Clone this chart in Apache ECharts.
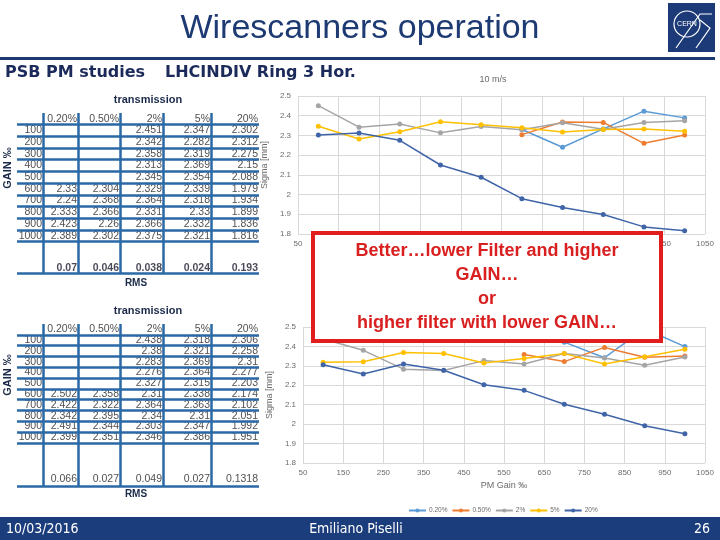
<!DOCTYPE html>
<html><head><meta charset="utf-8">
<script src="https://cdn.jsdelivr.net/npm/echarts@6/dist/echarts.min.js"></script>
<style>html,body{margin:0;padding:0;background:#fff}#c{width:720px;height:540px}</style>
</head><body><div id="c"></div><script>
// ---- data ----
const gains = [100,200,300,400,500,600,700,800,900,1000];
const filters = ['0.20%','0.50%','2%','5%','20%'];
// 10 m/s (upper table / chart)
const up020 = [null,null,null,null,null,2.33,2.24,2.333,2.423,2.389];
const up050 = [null,null,null,null,null,2.304,2.368,2.366,2.26,2.302];
const up2   = [2.451,2.342,2.358,2.313,2.345,2.329,2.364,2.331,2.366,2.375];
const up5   = [2.347,2.282,2.319,2.369,2.354,2.339,2.318,2.33,2.332,2.321];
const up20  = [2.302,2.312,2.275,2.15,2.088,1.979,1.934,1.899,1.836,1.816];
const upRms = [0.07,0.046,0.038,0.024,0.193];
// lower table / chart
const lo020 = [null,null,null,null,null,2.502,2.422,2.342,2.491,2.399];
const lo050 = [null,null,null,null,null,2.358,2.322,2.395,2.344,2.351];
const lo2   = [2.438,2.38,2.283,2.276,2.327,2.31,2.364,2.34,2.303,2.346];
const lo5   = [2.318,2.321,2.369,2.364,2.315,2.338,2.363,2.31,2.347,2.386];
const lo20  = [2.306,2.258,2.31,2.277,2.203,2.174,2.102,2.051,1.992,1.951];
const loRms = [0.066,0.027,0.049,0.027,0.1318];
const yTicks = [1.8,2.5,0.1];

// ---- layout / style ----
const colors = ['#5B9BD5','#ED7D31','#A5A5A5','#FFC000','#3F64A8'];
const navy = '#1D3A73';
const tblLine = '#2B69A6';
const colEdges = [0,26,61,103,146,194,242];
const tableFont = 'Liberation Sans, Arial, sans-serif';

function tableSeries(gi, cols, rms, rmsRow, bottom, rmsBold){
  const cells = [];
  filters.forEach((f,c)=>cells.push([colEdges[c+2],0.5,f]));
  gains.forEach((g,r)=>{
    cells.push([colEdges[1],r+1.5,String(g)]);
    cols.forEach((arr,c)=>{ if(arr[r]!=null) cells.push([colEdges[c+2],r+1.5,String(arr[r])]); });
  });
  const rmsCells = rms.map((v,c)=>[colEdges[c+2],rmsRow,String(v)]);
  const lines = [];
  for(let y=1;y<=11;y++) lines.push([{coord:[0,y]},{coord:[242,y]}]);
  lines.push([{coord:[0,bottom]},{coord:[242,bottom]}]);
  for(let c=1;c<=5;c++) lines.push([{coord:[colEdges[c],0]},{coord:[colEdges[c],bottom]}]);
  const lbl = {show:true,position:'left',distance:1,formatter:p=>p.data[2],color:'#222',fontSize:10.5,fontFamily:tableFont};
  return [
    {type:'scatter',xAxisIndex:gi,yAxisIndex:gi,symbolSize:0,data:cells,label:lbl,silent:true,
     markLine:{silent:true,symbol:'none',label:{show:false},lineStyle:{color:tblLine,width:2.5,type:'solid'},data:lines}},
    {type:'scatter',xAxisIndex:gi,yAxisIndex:gi,symbolSize:0,data:rmsCells,silent:true,
     label:Object.assign({},lbl,{fontWeight:rmsBold?'bold':'normal',color:rmsBold?'#1a1a2e':'#222'})}
  ];
}

function lineSeries(gi, arrs){
  return arrs.map((arr,i)=>({
    type:'line',name:filters[i],xAxisIndex:gi,yAxisIndex:gi,
    data:gains.map((g,k)=>[g,arr[k]]),
    symbol:'circle',symbolSize:5,color:colors[i],
    lineStyle:{width:1.5,color:colors[i]},itemStyle:{color:colors[i]},connectNulls:false
  }));
}

const axLbl = {fontSize:8,color:'#6b6b6b',fontFamily:tableFont};
function chartX(gi, name){
  return {type:'value',gridIndex:gi,min:50,max:1050,interval:100,
    axisLine:{show:false},axisTick:{show:false},axisLabel:Object.assign({margin:6,formatter:v=>String(v)},axLbl),
    splitLine:{show:true,lineStyle:{color:'#D9D9D9',width:1}},
    name:name,nameLocation:'middle',nameGap:18,nameTextStyle:{fontSize:9,color:'#6b6b6b',fontFamily:tableFont}};
}
function chartY(gi,gap){
  return {type:'value',gridIndex:gi,min:yTicks[0],max:yTicks[1],interval:yTicks[2],
    axisLine:{show:false},axisTick:{show:false},axisLabel:Object.assign({margin:7,formatter:v=>String(v)},axLbl),
    splitLine:{show:true,lineStyle:{color:'#D9D9D9',width:1}},
    name:'Sigma [mm]',nameLocation:'middle',nameGap:gap,nameTextStyle:{fontSize:9,color:'#6b6b6b',fontFamily:tableFont}};
}
function tblX(gi){return {type:'value',gridIndex:gi,min:0,max:242,show:false};}
function tblY(gi,max){return {type:'value',gridIndex:gi,min:0,max:max,inverse:true,show:false};}

const footFont = 'Liberation Sans Narrow, DejaVu Sans Condensed, sans-serif';
const headFont = 'DejaVu Sans, Verdana, sans-serif';

const option = {
  animation:false,
  backgroundColor:'#fff',
  title:[
    {text:'Wirescanners operation',left:'center',top:7,textStyle:{fontSize:34,fontWeight:'normal',color:navy,fontFamily:'Liberation Sans, Arial, sans-serif'}},
    {text:'10 m/s',left:488,top:70,textAlign:'center',textStyle:{fontSize:9,fontWeight:'normal',color:'#6b6b6b',fontFamily:tableFont}}
  ],
  grid:[
    {left:17,top:113,width:242,height:160},
    {left:17,top:324,width:242,height:162},
    {left:298,top:96,width:407,height:138},
    {left:303,top:327,width:402,height:136}
  ],
  xAxis:[tblX(0),tblX(1),chartX(2,''),chartX(3,'PM Gain ‰')],
  yAxis:[tblY(0,13.7),tblY(1,15),chartY(2,20),chartY(3,21)],
  legend:{data:filters,top:502,left:403,itemWidth:17,itemHeight:5,itemGap:4,
    textStyle:{fontSize:6.5,color:'#6b6b6b',fontFamily:tableFont,padding:[0,0,0,-2]}},
  series:[].concat(
    tableSeries(0,[up020,up050,up2,up5,up20],upRms,13.28,13.7,true),
    tableSeries(1,[lo020,lo050,lo2,lo5,lo20],loRms,14.4,15,false),
    lineSeries(2,[up020,up050,up2,up5,up20]),
    lineSeries(3,[lo020,lo050,lo2,lo5,lo20])
  ),
  graphic:[
    {type:'rect',shape:{x:0,y:57,width:715,height:3},style:{fill:navy},z:50},
    {type:'group',z:50,children:[
      {type:'rect',shape:{x:668,y:3,width:47,height:49},style:{fill:'#1C3A78'}},
      {type:'circle',shape:{cx:687,cy:24,r:13},style:{fill:'none',stroke:'#fff',lineWidth:1.2}},
      {type:'text',style:{x:687,y:24,text:'CERN',fill:'#fff',fontSize:7,align:'center',verticalAlign:'middle',fontFamily:tableFont}},
      {type:'polyline',shape:{points:[[676,48],[700,14],[712,14]]},style:{fill:'none',stroke:'#fff',lineWidth:1.2}},
      {type:'polyline',shape:{points:[[696,48],[710,28],[700,20]]},style:{fill:'none',stroke:'#fff',lineWidth:1.2}}
    ]},
    {type:'text',style:{x:5,y:73,text:'PSB PM studies',fill:'#1B2A5A',fontSize:16,fontWeight:'bold',fontFamily:headFont,verticalAlign:'middle'}},
    {type:'text',style:{x:165,y:73,text:'LHCINDIV Ring 3 Hor.',fill:'#1B2A5A',fontSize:16,fontWeight:'bold',fontFamily:headFont,verticalAlign:'middle'}},
    {type:'text',style:{x:148,y:100,text:'transmission',fill:'#1B2A4A',fontSize:11,fontWeight:'bold',fontFamily:tableFont,align:'center',verticalAlign:'middle'}},
    {type:'text',style:{x:148,y:311,text:'transmission',fill:'#1B2A4A',fontSize:11,fontWeight:'bold',fontFamily:tableFont,align:'center',verticalAlign:'middle'}},
    {type:'text',style:{x:136,y:283,text:'RMS',fill:'#1B2A4A',fontSize:10,fontWeight:'bold',fontFamily:tableFont,align:'center',verticalAlign:'middle'}},
    {type:'text',style:{x:136,y:494,text:'RMS',fill:'#1B2A4A',fontSize:10,fontWeight:'bold',fontFamily:tableFont,align:'center',verticalAlign:'middle'}},
    {type:'text',x:8,y:168,rotation:Math.PI/2,style:{text:'GAIN ‰',fill:'#1B2A4A',fontSize:11,fontWeight:'bold',fontFamily:tableFont,align:'center',verticalAlign:'middle'}},
    {type:'text',x:8,y:375,rotation:Math.PI/2,style:{text:'GAIN ‰',fill:'#1B2A4A',fontSize:11,fontWeight:'bold',fontFamily:tableFont,align:'center',verticalAlign:'middle'}},
    {type:'rect',z:100,shape:{x:313,y:233,width:348,height:108},style:{fill:'#fff',stroke:'#E21D1D',lineWidth:4}},
    {type:'text',z:101,style:{x:487,y:287,text:'Better…lower Filter and higher\nGAIN…\nor\nhigher filter with lower GAIN…',fill:'#D91F1F',fontSize:18,fontWeight:'bold',lineHeight:24,fontFamily:'Liberation Sans, Arial, sans-serif',align:'center',verticalAlign:'middle'}},
    {type:'rect',z:50,shape:{x:0,y:517,width:720,height:23},style:{fill:'#1C3D7C'}},
    {type:'text',z:51,style:{x:6,y:529,text:'10/03/2016',fill:'#fff',fontSize:14,fontFamily:footFont,verticalAlign:'middle'}},
    {type:'text',z:51,style:{x:356,y:529,text:'Emiliano Piselli',fill:'#fff',fontSize:14,fontFamily:footFont,align:'center',verticalAlign:'middle'}},
    {type:'text',z:51,style:{x:710,y:529,text:'26',fill:'#fff',fontSize:14,fontFamily:footFont,align:'right',verticalAlign:'middle'}}
  ]
};
echarts.init(document.getElementById('c')).setOption(option);
</script></body></html>
